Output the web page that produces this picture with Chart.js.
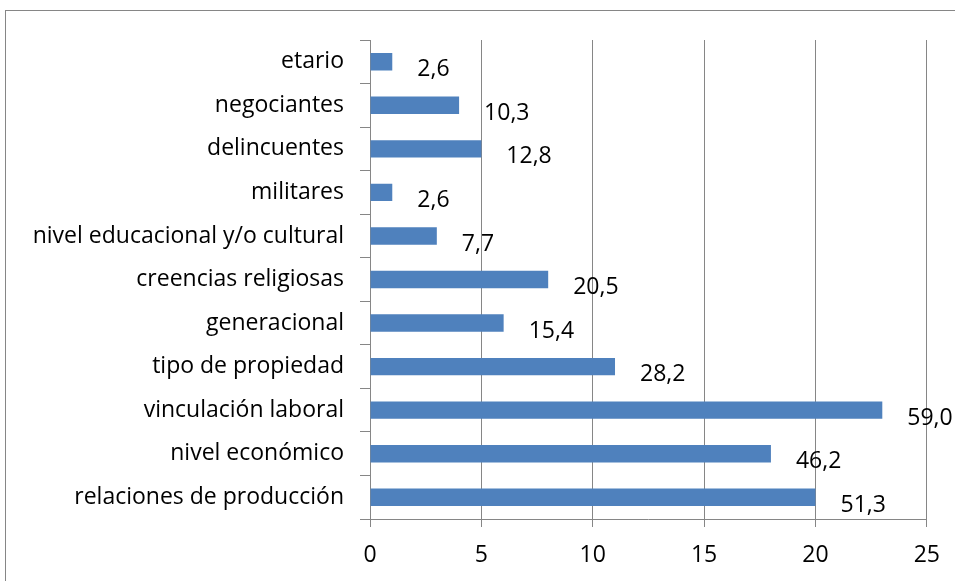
<!DOCTYPE html>
<html>
<head>
<meta charset="utf-8">
<script src="https://cdn.jsdelivr.net/npm/chart.js@4"></script>
<style>
    html, body { margin: 0; padding: 0; background: #fff; }
    #wrap { width: 955px; height: 581px; position: relative; }
</style>
</head>
<body>
<div id="wrap"><canvas id="barChart" width="955" height="581"></canvas></div>
<script>
// categories, top to bottom
var categories = ['etario', 'negociantes', 'delincuentes', 'militares',
    'nivel educacional y/o cultural', 'creencias religiosas', 'generacional',
    'tipo de propiedad', 'vinculación laboral', 'nivel económico',
    'relaciones de producción'];
// bar lengths (frequency)
var counts = [1, 4, 5, 1, 3, 8, 6, 11, 23, 18, 20];
// labels shown next to each bar (percent)
var percents = [2.6, 10.3, 12.8, 2.6, 7.7, 20.5, 15.4, 28.2, 59.0, 46.2, 51.3];
var xTicks = [0, 5, 10, 15, 20, 25];

var FONT = '"Open Sans", Lato, sans-serif';

document.addEventListener('DOMContentLoaded', function () {
    // outer frame like the spreadsheet chart area
    var framePlugin = {
        id: 'frame',
        beforeDraw: function (chart) {
            var c = chart.ctx;
            c.save();
            c.strokeStyle = '#868686';
            c.lineWidth = 1;
            c.strokeRect(5.5, 10.5, 1000, 1000);
            c.restore();
        }
    };

    // percent labels to the right of each bar
    var valueLabels = {
        id: 'valueLabels',
        afterDatasetsDraw: function (chart) {
            var c = chart.ctx;
            var meta = chart.getDatasetMeta(0);
            c.save();
            c.font = '23px ' + FONT;
            c.fillStyle = '#000';
            c.textAlign = 'left';
            c.textBaseline = 'middle';
            meta.data.forEach(function (bar, i) {
                var txt = percents[i].toFixed(1).replace('.', ',');
                c.fillText(txt, bar.x + 25, bar.y + 8);
            });
            c.restore();
        }
    };

    var ctx = document.getElementById('barChart').getContext('2d');
    var barChart = new Chart(ctx, {
        type: 'bar',
        data: {
            labels: categories,
            datasets: [{
                data: counts,
                backgroundColor: '#4F81BD',
                borderWidth: 0,
                barPercentage: 0.4,
                categoryPercentage: 1.0
            }]
        },
        options: {
            indexAxis: 'y',
            responsive: false,
            animation: false,
            layout: { padding: { left: 0, right: 27, top: 40, bottom: 0 } },
            plugins: {
                legend: { display: false },
                tooltip: { enabled: false }
            },
            scales: {
                x: {
                    min: 0,
                    max: 25,
                    afterBuildTicks: function (scale) {
                        scale.ticks = xTicks.map(function (v) { return { value: v }; });
                    },
                    afterFit: function (scale) { scale.height = 62; },
                    grid: { color: '#868686', tickLength: 8, lineWidth: 1 },
                    border: { color: '#868686' },
                    ticks: {
                        color: '#000',
                        font: { family: FONT, size: 23 },
                        padding: 15,
                        maxRotation: 0
                    }
                },
                y: {
                    afterFit: function (scale) { scale.width = 370; },
                    grid: { drawOnChartArea: false, color: '#868686', tickLength: 10, offset: true },
                    border: { color: '#868686' },
                    ticks: {
                        color: '#000',
                        font: { family: FONT, size: 23 },
                        padding: 16
                    }
                }
            }
        },
        plugins: [framePlugin, valueLabels]
    });
});
</script>
</body>
</html>
